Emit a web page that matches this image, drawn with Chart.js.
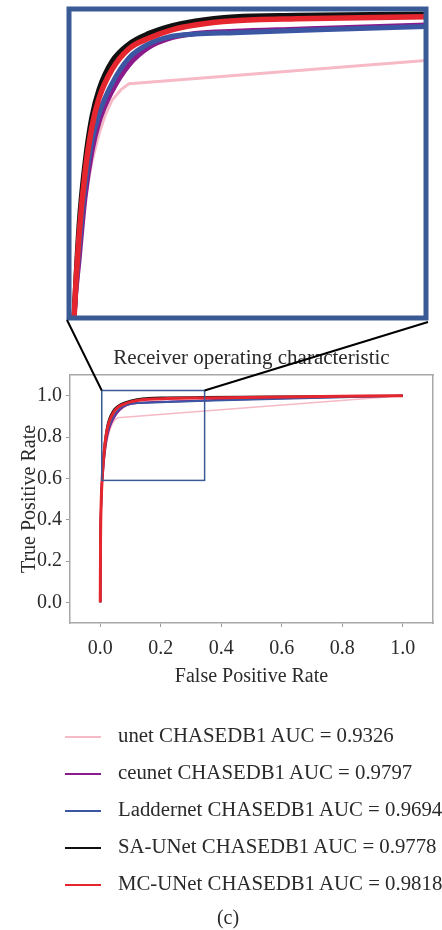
<!DOCTYPE html>
<html>
<head>
<meta charset="utf-8">
<script src="https://cdn.jsdelivr.net/npm/chart.js@4.4.0/dist/chart.umd.min.js"></script>
<style>
  body { margin: 0; background: #fff; }
  #wrap { position: relative; width: 442px; height: 930px; font-family: 'Liberation Serif', serif; color: #2a2a2a; }
  #insetChart { position: absolute; left: 64px; top: 4px; }
  #mainChart { position: absolute; left: 0; top: 340px; }
  #links { position: absolute; left: 0; top: 0; pointer-events: none; }
  #legend { position: absolute; left: 65px; top: 716px; font-size: 20.8px; }
  #legend .item { height: 37px; line-height: 37px; white-space: nowrap; }
  #legend .swatch { display: inline-block; width: 36px; height: 2px; vertical-align: middle; margin-right: 17px; }
  #caption { position: absolute; left: 0; width: 456px; top: 906px; text-align: center; font-size: 20px; }
</style>
</head>
<body>
<div id="wrap">
  <canvas id="insetChart" width="367" height="319"></canvas>
  <canvas id="mainChart" width="442" height="351"></canvas>
  <canvas id="links" width="442" height="930"></canvas>
  <div id="legend"></div>
  <div id="caption">(c)</div>
</div>
<script>
// === DATA ===
const modelNames = ['unet', 'ceunet', 'Laddernet', 'SA-UNet', 'MC-UNet'];
const aucValues = ['0.9326', '0.9797', '0.9694', '0.9778', '0.9818'];
const lineColors = ['#f6b9c6', '#8b1a8b', '#3b56a3', '#111111', '#e5262e'];

// shared false-positive-rate grid for the four close curves
const fprGrid = [0, 0.001, 0.003, 0.005, 0.0097, 0.0155, 0.022, 0.029, 0.0415, 0.058, 0.077, 0.0995, 0.122, 0.16, 0.22, 0.345, 0.6, 1.0];
const ceunetTpr = [0, 0.30, 0.48, 0.56, 0.64, 0.73, 0.795, 0.838, 0.882, 0.92, 0.945, 0.959, 0.965, 0.968, 0.971, 0.977, 0.988, 1.0];
const ladderTpr = [0, 0.30, 0.48, 0.56, 0.655, 0.745, 0.81, 0.85, 0.893, 0.93, 0.95, 0.961, 0.964, 0.966, 0.969, 0.975, 0.985, 1.0];
const saUnetTpr = [0, 0.30, 0.48, 0.56, 0.69, 0.78, 0.845, 0.885, 0.925, 0.95, 0.965, 0.976, 0.983, 0.989, 0.991, 0.993, 0.996, 1.0];
const mcUnetTpr = [0, 0.30, 0.48, 0.56, 0.675, 0.765, 0.83, 0.872, 0.913, 0.943, 0.958, 0.97, 0.977, 0.983, 0.986, 0.989, 0.994, 1.0];

// unet has a sharp knee then a straight run, so it keeps its own points
const unetFpr = [0, 0.002, 0.005, 0.01, 0.0155, 0.022, 0.029, 0.035, 0.0415, 0.05, 0.058, 0.345, 1.0];
const unetTpr = [0, 0.35, 0.557, 0.655, 0.726, 0.78, 0.821, 0.848, 0.869, 0.884, 0.893, 0.926, 1.0];

const xTicks = [0, 0.2, 0.4, 0.6, 0.8, 1.0];
const yTicks = [0, 0.2, 0.4, 0.6, 0.8, 1.0];
const mainRange = { min: -0.1, max: 1.1 };
const insetX = { min: 0, max: 0.345 };
const insetY = { min: 0.557, max: 1.0 };
const zoomBox = { x0: 0.005, x1: 0.345, y0: 0.59, y1: 1.025 };

const curves = [
  [unetFpr, unetTpr],
  [fprGrid, ceunetTpr],
  [fprGrid, ladderTpr],
  [fprGrid, saUnetTpr],
  [fprGrid, mcUnetTpr]
];

Chart.defaults.font.family = "'Liberation Serif', serif";
Chart.defaults.font.size = 20;
Chart.defaults.color = '#2a2a2a';

// widths: [unet, ceunet, Laddernet, SA-UNet, MC-UNet]
function buildDatasets(widths) {
  return curves.map(([xs, ys], i) => ({
    label: `${modelNames[i]} CHASEDB1 AUC = ${aucValues[i]}`,
    data: xs.map((x, j) => ({ x, y: ys[j] })),
    borderColor: lineColors[i],
    borderWidth: widths[i],
    showLine: true,
    pointRadius: 0,
    // unet: straight segments keep the knee sharp
    cubicInterpolationMode: i === 0 ? 'default' : 'monotone',
    tension: 0,
    borderJoinStyle: 'round',
    order: curves.length - 1 - i // MC-UNet on top
  }));
}

const frameColor = '#3a5a95';

// === INSET (zoomed) CHART ===
const insetChart = new Chart(document.getElementById('insetChart'), {
  type: 'scatter',
  data: { datasets: buildDatasets([3, 5, 5, 5, 5.5]) },
  options: {
    responsive: false,
    animation: false,
    layout: { padding: 5 },
    plugins: { legend: { display: false }, tooltip: { enabled: false } },
    scales: {
      x: { type: 'linear', display: false, min: insetX.min, max: insetX.max },
      y: { type: 'linear', display: false, min: insetY.min, max: insetY.max }
    }
  },
  plugins: [{
    id: 'insetFrame',
    afterDraw(chart) {
      const { ctx, chartArea: a } = chart;
      ctx.save();
      ctx.strokeStyle = frameColor;
      ctx.lineWidth = 5;
      ctx.strokeRect(a.left, a.top, a.right - a.left, a.bottom - a.top);
      ctx.restore();
    }
  }]
});

// === MAIN CHART ===
const fixedTicks = list => scale => { scale.ticks = list.map(v => ({ value: v })); };
const tickMarks = { drawOnChartArea: false, drawTicks: true, tickLength: 4, color: '#9a9a9a' };
const axisBorder = { display: true, color: '#a8a8a8', width: 1.5 };

const mainChart = new Chart(document.getElementById('mainChart'), {
  type: 'scatter',
  data: { datasets: buildDatasets([1.5, 2, 2, 2, 3]) },
  options: {
    responsive: false,
    animation: false,
    layout: { padding: 0 },
    plugins: { legend: { display: false }, tooltip: { enabled: false } },
    scales: {
      x: {
        type: 'linear', position: 'bottom', min: mainRange.min, max: mainRange.max,
        afterBuildTicks: fixedTicks(xTicks),
        afterFit: s => { s.height = 68; },
        grid: tickMarks, border: axisBorder,
        ticks: { padding: 10, callback: v => v.toFixed(1) },
        title: { display: true, text: 'False Positive Rate', padding: { top: 0, bottom: 2 } }
      },
      xTop: {
        type: 'linear', position: 'top', min: mainRange.min, max: mainRange.max,
        afterFit: s => { s.height = 35; },
        grid: { display: false }, border: axisBorder,
        ticks: { display: false },
        title: { display: true, text: 'Receiver operating characteristic', font: { size: 21 }, padding: { top: 6, bottom: 0 } }
      },
      y: {
        type: 'linear', position: 'left', min: mainRange.min, max: mainRange.max,
        afterBuildTicks: fixedTicks(yTicks),
        afterFit: s => { s.width = 70; },
        grid: tickMarks, border: axisBorder,
        ticks: { padding: 4, callback: v => v.toFixed(1) },
        title: { display: true, text: 'True Positive Rate', padding: { top: 18, bottom: 0 } }
      },
      yRight: {
        type: 'linear', position: 'right', min: mainRange.min, max: mainRange.max,
        afterFit: s => { s.width = 9; },
        grid: { display: false }, border: axisBorder,
        ticks: { display: false }
      }
    }
  },
  plugins: [{
    id: 'zoomBox',
    afterDatasetsDraw(chart) {
      const { ctx, scales: { x, y } } = chart;
      const l = x.getPixelForValue(zoomBox.x0), r = x.getPixelForValue(zoomBox.x1);
      const t = y.getPixelForValue(zoomBox.y1), b = y.getPixelForValue(zoomBox.y0);
      ctx.save();
      ctx.strokeStyle = frameColor;
      ctx.lineWidth = 1.5;
      ctx.strokeRect(l, t, r - l, b - t);
      ctx.restore();
    }
  }]
});

// === CONNECTOR LINES (inset corners -> zoom box corners) ===
(function drawLinks() {
  const insetEl = document.getElementById('insetChart');
  const mainEl = document.getElementById('mainChart');
  const ia = insetChart.chartArea;
  const { x, y } = mainChart.scales;
  const ox = insetEl.offsetLeft, oy = insetEl.offsetTop;
  const mx = mainEl.offsetLeft, my = mainEl.offsetTop;
  const ctx = document.getElementById('links').getContext('2d');
  ctx.strokeStyle = '#000';
  ctx.lineWidth = 2;
  const topY = my + y.getPixelForValue(zoomBox.y1);
  ctx.beginPath();
  ctx.moveTo(ox + ia.left - 2, oy + ia.bottom + 2);
  ctx.lineTo(mx + x.getPixelForValue(zoomBox.x0), topY);
  ctx.moveTo(ox + ia.right + 2, oy + ia.bottom + 4);
  ctx.lineTo(mx + x.getPixelForValue(zoomBox.x1), topY);
  ctx.stroke();
})();

// === LEGEND ===
const legendBox = document.getElementById('legend');
mainChart.data.datasets.forEach(ds => {
  const row = document.createElement('div');
  row.className = 'item';
  row.innerHTML = `<span class="swatch" style="background:${ds.borderColor}"></span>${ds.label}`;
  legendBox.appendChild(row);
});
</script>
</body>
</html>
